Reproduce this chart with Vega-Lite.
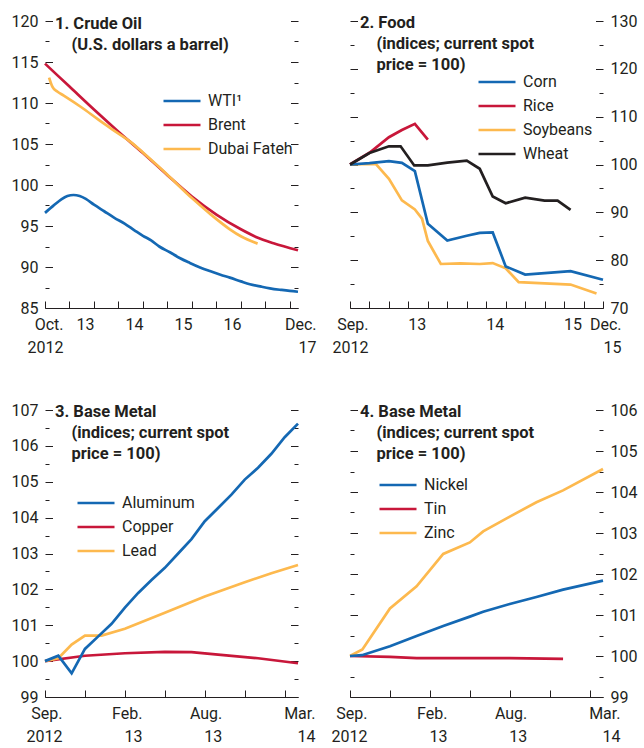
{
  "$schema": "https://vega.github.io/schema/vega-lite/v6.json",
  "padding": {"left": 11, "top": 13, "right": 4, "bottom": 2},
  "background": "white",
  "config": {
    "font": "Roboto, Liberation Sans, sans-serif",
    "view": {"stroke": null},
    "axis": {"labelFontSize": 16, "labelColor": "#231f20", "tickColor": "#231f20", "domainColor": "#231f20", "tickWidth": 1, "domainWidth": 1, "grid": false, "title": null, "labelFlush": false, "labelOverlap": false, "labelBound": false},
    "legend": {"orient": "none", "title": null, "labelFontSize": 16, "labelColor": "#231f20", "symbolType": "stroke", "symbolSize": 1369, "symbolStrokeWidth": 2.7, "labelOffset": 6, "padding": 0, "rowPadding": 0, "clipHeight": 24},
    "title": {"anchor": "start", "frame": "group", "fontSize": 16.5, "fontWeight": "bold", "color": "#231f20", "lineHeight": 21, "baseline": "top", "dx": 10},
    "line": {"strokeWidth": 2.7}
  },
  "resolve": {"scale": {"color": "independent"}, "legend": {"color": "independent"}},
  "datasets": {
    "oil": [
      {"m": 0, "s": "WTI¹", "v": 96.6}, {"m": 2, "s": "WTI¹", "v": 97.45}, {"m": 4, "s": "WTI¹", "v": 98.25}, {"m": 5.5, "s": "WTI¹", "v": 98.65}, {"m": 7, "s": "WTI¹", "v": 98.78}, {"m": 8.5, "s": "WTI¹", "v": 98.65}, {"m": 10, "s": "WTI¹", "v": 98.3}, {"m": 12, "s": "WTI¹", "v": 97.6}, {"m": 14.5, "s": "WTI¹", "v": 96.8}, {"m": 17, "s": "WTI¹", "v": 96.0}, {"m": 19.5, "s": "WTI¹", "v": 95.3}, {"m": 22, "s": "WTI¹", "v": 94.45}, {"m": 24, "s": "WTI¹", "v": 93.8}, {"m": 26, "s": "WTI¹", "v": 93.25}, {"m": 28, "s": "WTI¹", "v": 92.5}, {"m": 30.6, "s": "WTI¹", "v": 91.8}, {"m": 33, "s": "WTI¹", "v": 91.1}, {"m": 35.5, "s": "WTI¹", "v": 90.5}, {"m": 38, "s": "WTI¹", "v": 89.95}, {"m": 40.4, "s": "WTI¹", "v": 89.5}, {"m": 43, "s": "WTI¹", "v": 89.05}, {"m": 45.3, "s": "WTI¹", "v": 88.7}, {"m": 48, "s": "WTI¹", "v": 88.25}, {"m": 50.2, "s": "WTI¹", "v": 87.9}, {"m": 53, "s": "WTI¹", "v": 87.6}, {"m": 55.1, "s": "WTI¹", "v": 87.4}, {"m": 58, "s": "WTI¹", "v": 87.2}, {"m": 60, "s": "WTI¹", "v": 87.08}, {"m": 62, "s": "WTI¹", "v": 86.98},
      {"m": 0, "s": "Brent", "v": 114.8}, {"m": 6, "s": "Brent", "v": 112.0}, {"m": 12, "s": "Brent", "v": 109.2}, {"m": 18, "s": "Brent", "v": 106.5}, {"m": 24, "s": "Brent", "v": 103.9}, {"m": 30, "s": "Brent", "v": 101.2}, {"m": 36, "s": "Brent", "v": 98.6}, {"m": 42, "s": "Brent", "v": 96.4}, {"m": 48, "s": "Brent", "v": 94.6}, {"m": 52, "s": "Brent", "v": 93.6}, {"m": 56, "s": "Brent", "v": 92.9}, {"m": 62, "s": "Brent", "v": 92.05},
      {"m": 1, "s": "Dubai Fateh", "v": 113.1}, {"m": 1.8, "s": "Dubai Fateh", "v": 112.0}, {"m": 3, "s": "Dubai Fateh", "v": 111.4}, {"m": 4.6, "s": "Dubai Fateh", "v": 110.9}, {"m": 9, "s": "Dubai Fateh", "v": 109.45}, {"m": 13, "s": "Dubai Fateh", "v": 108.0}, {"m": 17, "s": "Dubai Fateh", "v": 106.6}, {"m": 21.5, "s": "Dubai Fateh", "v": 105.05}, {"m": 24, "s": "Dubai Fateh", "v": 103.95}, {"m": 30, "s": "Dubai Fateh", "v": 101.25}, {"m": 36, "s": "Dubai Fateh", "v": 98.4}, {"m": 40.4, "s": "Dubai Fateh", "v": 96.5}, {"m": 45.3, "s": "Dubai Fateh", "v": 94.6}, {"m": 48, "s": "Dubai Fateh", "v": 93.75}, {"m": 52.1, "s": "Dubai Fateh", "v": 92.85}
    ],
    "food": [
      {"m": 0, "s": "Rice", "v": 100}, {"m": 3, "s": "Rice", "v": 102.45}, {"m": 6, "s": "Rice", "v": 105.7}, {"m": 8, "s": "Rice", "v": 107.2}, {"m": 10, "s": "Rice", "v": 108.5}, {"m": 12, "s": "Rice", "v": 105.2},
      {"m": 0, "s": "Soybeans", "v": 100}, {"m": 4, "s": "Soybeans", "v": 100.1}, {"m": 6, "s": "Soybeans", "v": 97.0}, {"m": 8, "s": "Soybeans", "v": 92.5}, {"m": 10, "s": "Soybeans", "v": 90.6}, {"m": 11.1, "s": "Soybeans", "v": 88.7}, {"m": 12, "s": "Soybeans", "v": 84.0}, {"m": 14, "s": "Soybeans", "v": 79.2}, {"m": 17, "s": "Soybeans", "v": 79.35}, {"m": 20, "s": "Soybeans", "v": 79.2}, {"m": 22, "s": "Soybeans", "v": 79.4}, {"m": 24, "s": "Soybeans", "v": 78.3}, {"m": 26, "s": "Soybeans", "v": 75.4}, {"m": 30, "s": "Soybeans", "v": 75.15}, {"m": 34, "s": "Soybeans", "v": 74.9}, {"m": 38, "s": "Soybeans", "v": 73.05},
      {"m": 0, "s": "Corn", "v": 100}, {"m": 3, "s": "Corn", "v": 100.3}, {"m": 6, "s": "Corn", "v": 100.7}, {"m": 8, "s": "Corn", "v": 100.35}, {"m": 10, "s": "Corn", "v": 98.6}, {"m": 12, "s": "Corn", "v": 87.6}, {"m": 15, "s": "Corn", "v": 84.1}, {"m": 18, "s": "Corn", "v": 85.1}, {"m": 20, "s": "Corn", "v": 85.7}, {"m": 22, "s": "Corn", "v": 85.8}, {"m": 24, "s": "Corn", "v": 78.7}, {"m": 27, "s": "Corn", "v": 77.0}, {"m": 30, "s": "Corn", "v": 77.3}, {"m": 34, "s": "Corn", "v": 77.7}, {"m": 39, "s": "Corn", "v": 75.9},
      {"m": 0, "s": "Wheat", "v": 100}, {"m": 3, "s": "Wheat", "v": 102.4}, {"m": 6, "s": "Wheat", "v": 103.8}, {"m": 7.8, "s": "Wheat", "v": 103.8}, {"m": 9.9, "s": "Wheat", "v": 99.8}, {"m": 12, "s": "Wheat", "v": 99.8}, {"m": 15, "s": "Wheat", "v": 100.4}, {"m": 18, "s": "Wheat", "v": 100.8}, {"m": 20, "s": "Wheat", "v": 99.1}, {"m": 22, "s": "Wheat", "v": 93.3}, {"m": 24, "s": "Wheat", "v": 91.9}, {"m": 27, "s": "Wheat", "v": 93.05}, {"m": 30, "s": "Wheat", "v": 92.45}, {"m": 32, "s": "Wheat", "v": 92.45}, {"m": 34, "s": "Wheat", "v": 90.5}
    ],
    "metal1": [
      {"m": 0, "s": "Copper", "v": 100}, {"m": 3, "s": "Copper", "v": 100.15}, {"m": 6, "s": "Copper", "v": 100.22}, {"m": 9, "s": "Copper", "v": 100.26}, {"m": 11, "s": "Copper", "v": 100.25}, {"m": 13, "s": "Copper", "v": 100.18}, {"m": 16, "s": "Copper", "v": 100.08}, {"m": 19, "s": "Copper", "v": 99.94},
      {"m": 0, "s": "Lead", "v": 100}, {"m": 1, "s": "Lead", "v": 100.08}, {"m": 2, "s": "Lead", "v": 100.46}, {"m": 3, "s": "Lead", "v": 100.71}, {"m": 4.25, "s": "Lead", "v": 100.71}, {"m": 6, "s": "Lead", "v": 100.9}, {"m": 9, "s": "Lead", "v": 101.35}, {"m": 12, "s": "Lead", "v": 101.8}, {"m": 15, "s": "Lead", "v": 102.2}, {"m": 17, "s": "Lead", "v": 102.45}, {"m": 19, "s": "Lead", "v": 102.68},
      {"m": 0, "s": "Aluminum", "v": 100}, {"m": 1, "s": "Aluminum", "v": 100.15}, {"m": 2, "s": "Aluminum", "v": 99.66}, {"m": 3, "s": "Aluminum", "v": 100.34}, {"m": 4, "s": "Aluminum", "v": 100.69}, {"m": 5, "s": "Aluminum", "v": 101.04}, {"m": 6, "s": "Aluminum", "v": 101.49}, {"m": 7, "s": "Aluminum", "v": 101.9}, {"m": 8, "s": "Aluminum", "v": 102.26}, {"m": 9, "s": "Aluminum", "v": 102.6}, {"m": 10, "s": "Aluminum", "v": 103.0}, {"m": 11, "s": "Aluminum", "v": 103.4}, {"m": 12, "s": "Aluminum", "v": 103.9}, {"m": 13, "s": "Aluminum", "v": 104.27}, {"m": 14, "s": "Aluminum", "v": 104.64}, {"m": 15, "s": "Aluminum", "v": 105.06}, {"m": 16, "s": "Aluminum", "v": 105.39}, {"m": 17, "s": "Aluminum", "v": 105.78}, {"m": 18, "s": "Aluminum", "v": 106.24}, {"m": 19, "s": "Aluminum", "v": 106.62}
    ],
    "metal2": [
      {"m": 0, "s": "Tin", "v": 100}, {"m": 3, "s": "Tin", "v": 99.98}, {"m": 5, "s": "Tin", "v": 99.95}, {"m": 9, "s": "Tin", "v": 99.95}, {"m": 12, "s": "Tin", "v": 99.95}, {"m": 16, "s": "Tin", "v": 99.93},
      {"m": 0, "s": "Zinc", "v": 100}, {"m": 0.93, "s": "Zinc", "v": 100.16}, {"m": 3, "s": "Zinc", "v": 101.16}, {"m": 5, "s": "Zinc", "v": 101.7}, {"m": 7, "s": "Zinc", "v": 102.49}, {"m": 9, "s": "Zinc", "v": 102.77}, {"m": 10, "s": "Zinc", "v": 103.04}, {"m": 12, "s": "Zinc", "v": 103.4}, {"m": 14, "s": "Zinc", "v": 103.75}, {"m": 16, "s": "Zinc", "v": 104.04}, {"m": 19, "s": "Zinc", "v": 104.56},
      {"m": 0, "s": "Nickel", "v": 100}, {"m": 0.9, "s": "Nickel", "v": 100.02}, {"m": 3, "s": "Nickel", "v": 100.24}, {"m": 5, "s": "Nickel", "v": 100.49}, {"m": 7, "s": "Nickel", "v": 100.73}, {"m": 9, "s": "Nickel", "v": 100.96}, {"m": 10, "s": "Nickel", "v": 101.08}, {"m": 12, "s": "Nickel", "v": 101.27}, {"m": 14, "s": "Nickel", "v": 101.44}, {"m": 16, "s": "Nickel", "v": 101.62}, {"m": 19, "s": "Nickel", "v": 101.84}
    ]
  },
  "columns": 2,
  "spacing": {"row": 102, "column": 52},
  "bounds": "flush",
  "concat": [
    {
      "width": 253, "height": 287,
      "title": {"text": ["1. Crude Oil", "\u200b\u00a0\u00a0\u00a0\u00a0(U.S. dollars a barrel)"], "offset": -40},
      "data": {"name": "oil"},
      "encoding": {
        "x": {"field": "m", "type": "quantitative", "scale": {"domain": [0, 62], "nice": false, "zero": false},
          "axis": {"values": [0, 6, 12, 18, 24, 30, 36, 42, 48, 54, 60, 62],
            "tickSize": -7,
            "tickOpacity": {"condition": {"test": "datum.value == 62", "value": 0}, "value": 1},
            "labelExpr": "datum.value == 0 ? ['Oct.', '2012'] : datum.value == 62 ? ['Dec.', '17'] : (datum.value % 12 == 0 && datum.value < 60) ? format(12 + datum.value / 12, 'd') : ''",
            "labelAlign": "right",
            "labelOffset": {"condition": {"test": "datum.value == 0 || datum.value == 62", "value": 18}, "value": 0},
            "labelLineHeight": 23, "labelPadding": 15}}
      },
      "layer": [
        {
          "mark": {"type": "line", "interpolate": "monotone"},
          "encoding": {
            "y": {"field": "v", "type": "quantitative", "scale": {"domain": [85, 120], "nice": false, "zero": false},
              "axis": {"orient": "left", "domain": false, "values": [85, 87.5, 90, 92.5, 95, 97.5, 100, 102.5, 105, 107.5, 110, 112.5, 115, 117.5, 120],
                "labelExpr": "datum.value % 5 == 0 ? format(datum.value, 'd') : ''",
                "tickSize": {"condition": {"test": "datum.value % 5 == 0", "value": -7.5}, "value": -4},
                "labelPadding": 14.5}},
            "color": {"field": "s", "type": "nominal", "scale": {"domain": ["WTI¹", "Brent", "Dubai Fateh"], "range": ["#1468b3", "#c8173a", "#fdb94e"]}, "legend": {"legendX": 117, "legendY": 68}}
          }
        },
        {
          "mark": {"type": "point", "opacity": 0},
          "encoding": {
            "y": {"field": "v", "type": "quantitative",
              "axis": {"orient": "right", "domain": false, "labels": false, "values": [85, 87.5, 90, 92.5, 95, 97.5, 100, 102.5, 105, 107.5, 110, 112.5, 115, 117.5, 120],
                "tickSize": {"condition": {"test": "datum.value % 5 == 0", "value": -7.5}, "value": -4}}}
          }
        }
      ],
      "resolve": {"axis": {"y": "independent"}}
    },
    {
      "width": 253, "height": 287,
      "title": {"text": ["2. Food", "\u200b\u00a0\u00a0\u00a0\u00a0(indices; current spot", "\u200b\u00a0\u00a0\u00a0\u00a0price = 100)"], "offset": -60},
      "data": {"name": "food"},
      "encoding": {
        "x": {"field": "m", "type": "quantitative", "scale": {"domain": [0, 39], "nice": false, "zero": false},
          "axis": {"values": [0, 3, 6, 9, 12, 15, 18, 21, 24, 27, 30, 33, 36, 39],
            "tickSize": -7,
            "labelExpr": "datum.value == 0 ? ['Sep.', '2012'] : datum.value == 39 ? ['Dec.', '15'] : (datum.value % 12 == 0) ? format(12 + datum.value / 12, 'd') : ''",
            "labelAlign": "right",
            "labelOffset": {"condition": {"test": "datum.value == 0 || datum.value == 39", "value": 18}, "value": -2},
            "labelLineHeight": 23, "labelPadding": 15}}
      },
      "layer": [
        {
          "mark": {"type": "line"},
          "encoding": {
            "y": {"field": "v", "type": "quantitative", "scale": {"domain": [70, 130], "nice": false, "zero": false},
              "axis": {"orient": "left", "domain": false, "labels": false, "values": [70, 75, 80, 85, 90, 95, 100, 105, 110, 115, 120, 125, 130],
                "tickSize": {"condition": {"test": "datum.value % 10 == 0", "value": -7.5}, "value": -4}}},
            "color": {"field": "s", "type": "nominal", "scale": {"domain": ["Corn", "Rice", "Soybeans", "Wheat"], "range": ["#1468b3", "#c8173a", "#fdb94e", "#231f20"]}, "legend": {"legendX": 127, "legendY": 49}}
          }
        },
        {
          "mark": {"type": "point", "opacity": 0},
          "encoding": {
            "y": {"field": "v", "type": "quantitative",
              "axis": {"orient": "right", "domain": false, "values": [70, 75, 80, 85, 90, 95, 100, 105, 110, 115, 120, 125, 130],
                "labelExpr": "datum.value % 10 == 0 ? format(datum.value, 'd') : ''",
                "tickSize": {"condition": {"test": "datum.value % 10 == 0", "value": -7.5}, "value": -4},
                "labelPadding": 14.5}}
          }
        }
      ],
      "resolve": {"axis": {"y": "independent"}}
    },
    {
      "width": 253, "height": 287,
      "title": {"text": ["3. Base Metal", "\u200b\u00a0\u00a0\u00a0\u00a0(indices; current spot", "\u200b\u00a0\u00a0\u00a0\u00a0price = 100)"], "offset": -60},
      "data": {"name": "metal1"},
      "encoding": {
        "x": {"field": "m", "type": "quantitative", "scale": {"domain": [0, 19], "nice": false, "zero": false},
          "axis": {"values": [0, 3, 6, 9, 12, 15, 18, 19],
            "tickSize": -7,
            "tickOpacity": {"condition": {"test": "datum.value == 19", "value": 0}, "value": 1},
            "labelExpr": "datum.value == 0 ? ['Sep.', '2012'] : datum.value == 6 ? ['Feb.', '13'] : datum.value == 12 ? ['Aug.', '13'] : datum.value == 19 ? ['Mar.', '14'] : ''",
            "labelAlign": "right",
            "labelOffset": 17,
            "labelLineHeight": 23, "labelPadding": 15}}
      },
      "layer": [
        {
          "mark": {"type": "line"},
          "encoding": {
            "y": {"field": "v", "type": "quantitative", "scale": {"domain": [99, 107], "nice": false, "zero": false},
              "axis": {"orient": "left", "domain": false, "values": [99, 99.5, 100, 100.5, 101, 101.5, 102, 102.5, 103, 103.5, 104, 104.5, 105, 105.5, 106, 106.5, 107],
                "labelExpr": "datum.value % 1 == 0 ? format(datum.value, 'd') : ''",
                "tickSize": {"condition": {"test": "datum.value % 1 == 0", "value": -7.5}, "value": -4},
                "labelPadding": 14.5}},
            "color": {"field": "s", "type": "nominal", "scale": {"domain": ["Aluminum", "Copper", "Lead"], "range": ["#1468b3", "#c8173a", "#fdb94e"]}, "legend": {"legendX": 31, "legendY": 81}}
          }
        },
        {
          "mark": {"type": "point", "opacity": 0},
          "encoding": {
            "y": {"field": "v", "type": "quantitative",
              "axis": {"orient": "right", "domain": false, "labels": false, "values": [99, 99.5, 100, 100.5, 101, 101.5, 102, 102.5, 103, 103.5, 104, 104.5, 105, 105.5, 106, 106.5, 107],
                "tickSize": {"condition": {"test": "datum.value % 1 == 0", "value": -7.5}, "value": -4}}}
          }
        }
      ],
      "resolve": {"axis": {"y": "independent"}}
    },
    {
      "width": 253, "height": 287,
      "title": {"text": ["4. Base Metal", "\u200b\u00a0\u00a0\u00a0\u00a0(indices; current spot", "\u200b\u00a0\u00a0\u00a0\u00a0price = 100)"], "offset": -60},
      "data": {"name": "metal2"},
      "encoding": {
        "x": {"field": "m", "type": "quantitative", "scale": {"domain": [0, 19], "nice": false, "zero": false},
          "axis": {"values": [0, 3, 6, 9, 12, 15, 18, 19],
            "tickSize": -7,
            "tickOpacity": {"condition": {"test": "datum.value == 19", "value": 0}, "value": 1},
            "labelExpr": "datum.value == 0 ? ['Sep.', '2012'] : datum.value == 6 ? ['Feb.', '13'] : datum.value == 12 ? ['Aug.', '13'] : datum.value == 19 ? ['Mar.', '14'] : ''",
            "labelAlign": "right",
            "labelOffset": 17,
            "labelLineHeight": 23, "labelPadding": 15}}
      },
      "layer": [
        {
          "mark": {"type": "line"},
          "encoding": {
            "y": {"field": "v", "type": "quantitative", "scale": {"domain": [99, 106], "nice": false, "zero": false},
              "axis": {"orient": "left", "domain": false, "labels": false, "values": [99, 99.5, 100, 100.5, 101, 101.5, 102, 102.5, 103, 103.5, 104, 104.5, 105, 105.5, 106],
                "tickSize": {"condition": {"test": "datum.value % 1 == 0", "value": -7.5}, "value": -4}}},
            "color": {"field": "s", "type": "nominal", "scale": {"domain": ["Nickel", "Tin", "Zinc"], "range": ["#1468b3", "#c8173a", "#fdb94e"]}, "legend": {"legendX": 28, "legendY": 63}}
          }
        },
        {
          "mark": {"type": "point", "opacity": 0},
          "encoding": {
            "y": {"field": "v", "type": "quantitative",
              "axis": {"orient": "right", "domain": false, "values": [99, 99.5, 100, 100.5, 101, 101.5, 102, 102.5, 103, 103.5, 104, 104.5, 105, 105.5, 106],
                "labelExpr": "datum.value % 1 == 0 ? format(datum.value, 'd') : ''",
                "tickSize": {"condition": {"test": "datum.value % 1 == 0", "value": -7.5}, "value": -4},
                "labelPadding": 14.5}}
          }
        }
      ],
      "resolve": {"axis": {"y": "independent"}}
    }
  ]
}
